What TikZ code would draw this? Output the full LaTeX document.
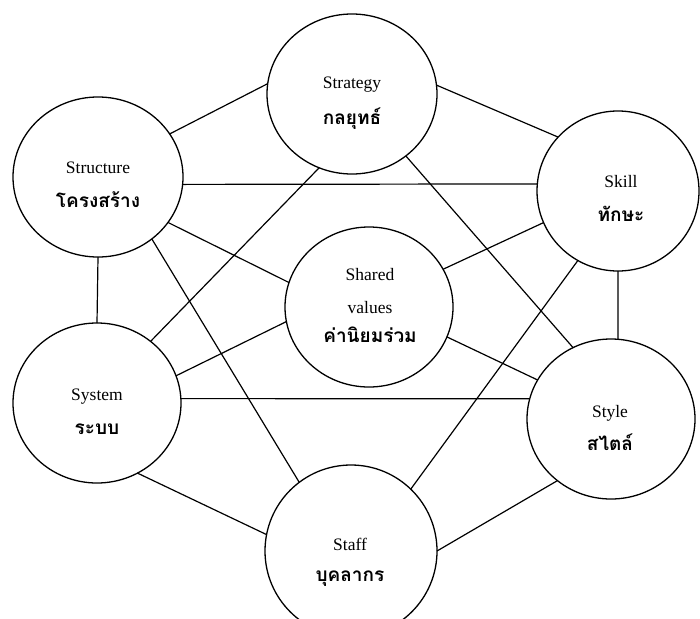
\documentclass[tikz,border=0pt]{standalone}
\usepackage{fontspec}
\setmainfont{Liberation Serif}
\newfontfamily\thai[Script=Thai]{Loma}
\usetikzlibrary{shapes.geometric}
\tikzset{
  ring/.style n args={2}{draw, ellipse, line width=1.3pt, inner sep=0pt, outer sep=0pt,
    minimum width=#1, minimum height=#2},
  en/.style={font=\fontsize{17.5}{20}\selectfont, anchor=base, inner sep=0pt},
  th/.style={font=\thai\bfseries\fontsize{19}{22}\selectfont, anchor=base, inner sep=0pt},
  link/.style={line width=1.2pt}
}
\begin{document}
\begin{tikzpicture}[x=1pt, y=-1pt]
\useasboundingbox (0,0) rectangle (700,618);
% circles
\node[ring={170pt}{160pt}] (strategy)  at (352,94)  {};
\node[ring={170pt}{160pt}] (structure) at (98,177)  {};
\node[ring={162pt}{160pt}] (skill)     at (618,191) {};
\node[ring={168pt}{160pt}] (shared)    at (369,307) {};
\node[ring={168pt}{160pt}] (system)    at (97,403)  {};
\node[ring={168pt}{160pt}] (style)     at (611,419) {};
\node[ring={172pt}{172pt}] (staff)     at (351,551) {};
% texts
\node[en] (strategyEn)  at (352,88)  {Strategy};
\node[th] (strategyTh)  at (352,124) {กลยุทธ์};
\node[en] (structureEn) at (98,173)  {Structure};
\node[th] (structureTh) at (98,207)  {โครงสร้าง};
\node[en] (skillEn)     at (621,187) {Skill};
\node[th] (skillTh)     at (621,221) {ทักษะ};
\node[en] (sharedEn)    at (370,280) {Shared};
\node[en] (valuesEn)    at (370,313) {values};
\node[th] (sharedTh)    at (370,342) {ค่านิยมร่วม};
\node[en] (systemEn)    at (97,400)  {System};
\node[th] (systemTh)    at (97,434)  {ระบบ};
\node[en] (styleEn)     at (610,417) {Style};
\node[th] (styleTh)     at (610,450) {สไตล์};
\node[en] (staffEn)     at (350,550) {Staff};
\node[th] (staffTh)     at (350,581) {บุคลากร};
% connectors
\draw[link] (structure.31.4) -- (strategy.173.2);
\draw[link] (strategy.6) -- (skill.138.4);
\draw[link] (strategy.246.2) -- (system.49);
\draw[link] (strategy.-49.4) -- (style.118.8);
\draw[link] (structure.-5.4) -- (skill.175.8);
\draw[link] (structure.-33.1) -- (shared.163.5);
\draw[link] (structure.south) -- (system.north);
\draw[link] (structure.-49.5) -- (staff.127.5);
\draw[link] (skill.203.1) -- (shared.27.8);
\draw[link] (skill.-90) -- (style.85);
\draw[link] (skill.240.4) -- (staff.46.9);
\draw[link] (shared.190.1) -- (system.19.1);
\draw[link] (shared.-21.4) -- (style.152.2);
\draw[link] (system.3) -- (style.166.5);
\draw[link] (system.-60.7) -- (staff.169.5);
\draw[link] (staff.-0.7) -- (style.229.8);
\end{tikzpicture}
\end{document}
